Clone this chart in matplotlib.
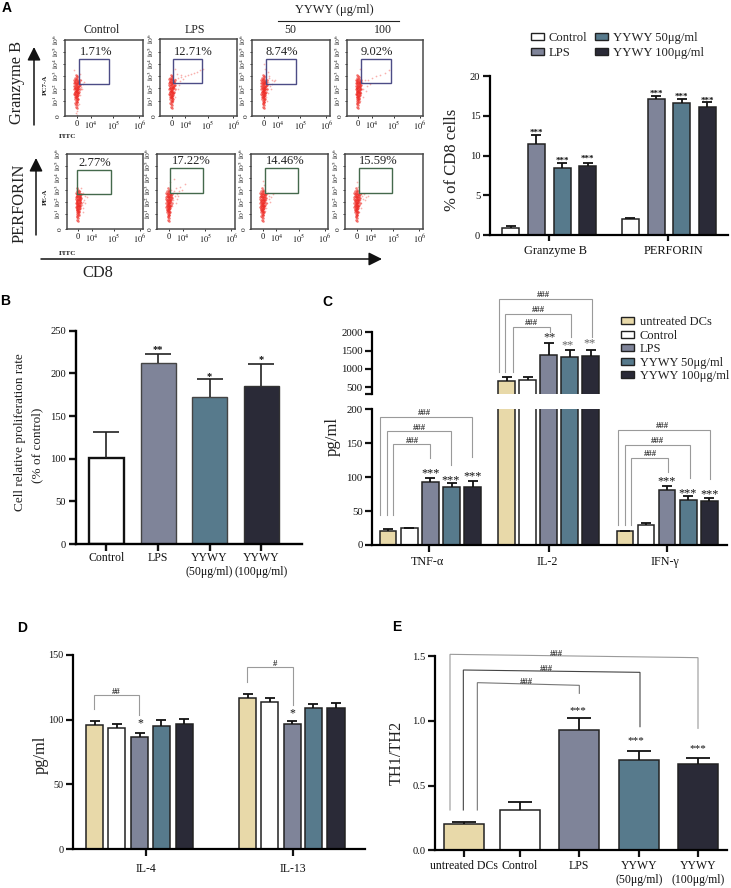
import matplotlib
matplotlib.use('Agg')
import matplotlib.pyplot as plt
from matplotlib.patches import Rectangle, Patch
from matplotlib.transforms import ScaledTranslation

W, H = 731, 888

TAN = '#e8d9a9'
WHITE = '#ffffff'
LPS = '#7f8499'
TEAL = '#577a8c'
DARK = '#2a2a37'
GREY = '#9a9a9a'

# panel A flow plots
flow_names = ['Control', 'LPS', '50', '100']
gzb_pct = ['1.71%', '12.71%', '8.74%', '9.02%']
prf_pct = ['2.77%', '17.22%', '14.46%', '15.59%']
core_x = [.14, .15, .13, .16, .14, .17, .15, .13, .16, .14, .18, .15, .13, .16, .14, .17, .15, .14, .16, .13,
          .15, .17, .14, .16, .13, .15, .18, .14, .16, .15, .13, .17, .15, .14, .16, .15, .14, .15, .14, .15,
          .12, .19, .13, .18, .12, .17, .19, .12, .18, .13, .17, .12, .19, .14, .18, .13, .16, .12, .17, .13,
          .155, .145, .165, .135, .155, .145, .165, .135, .155, .145, .165, .135, .155, .145, .165, .135]
core_y = [.54, .52, .50, .49, .47, .46, .45, .44, .43, .42, .41, .40, .39, .38, .37, .36, .35, .34, .33, .32,
          .31, .30, .29, .28, .27, .26, .44, .25, .24, .23, .22, .38, .21, .20, .19, .18, .16, .14, .12, .10,
          .48, .47, .46, .45, .43, .43, .41, .40, .39, .37, .36, .35, .35, .33, .32, .31, .30, .29, .28, .25,
          .51, .485, .465, .445, .425, .405, .385, .365, .345, .325, .305, .285, .265, .245, .225, .17]
soft_x = [.12, .19, .21, .18, .23, .20, .17, .12, .22, .19, .15, .14, .16, .13, .24, .18]
soft_y = [.60, .55, .48, .33, .42, .38, .22, .30, .36, .27, .07, .04, .01, .15, .45, .16]
lps1_x = [.20, .24, .28, .32, .36, .40, .44, .48, .52, .56, .26, .30, .22, .25, .18, .20, .23, .19, .27, .17]
lps1_y = [.48, .50, .51, .52, .53, .55, .56, .58, .60, .62, .46, .48, .55, .40, .30, .25, .35, .62, .54, .20]
y50_x = [.20, .22, .25, .28, .30, .23, .19, .21, .26, .18, .17, .20, .24, .16, .19, .22]
y50_y = [.45, .50, .47, .46, .48, .40, .35, .30, .42, .25, .62, .58, .36, .68, .20, .52]
y100_x = [.20, .24, .28, .33, .38, .44, .50, .56, .22, .26, .19, .21, .18, .25, .17, .30]
y100_y = [.45, .47, .48, .50, .52, .54, .56, .60, .35, .40, .30, .25, .20, .33, .62, .42]
prf_ctl_x = [.18, .20, .22, .24, .19, .21, .23, .18, .20, .17, .26, .22, .19, .21, .16, .24]
prf_ctl_y = [.50, .46, .48, .44, .40, .36, .38, .30, .32, .26, .42, .28, .55, .22, .20, .34]
prf_lps_x = [.18, .20, .22, .24, .26, .28, .30, .19, .21, .23, .25, .32, .36, .17, .19, .22, .27, .24]
prf_lps_y = [.52, .48, .50, .54, .46, .50, .56, .42, .38, .44, .40, .52, .60, .62, .30, .66, .44, .34]
prf_50_x = [.18, .20, .22, .24, .26, .19, .21, .23, .17, .28, .20, .25, .16, .18]
prf_50_y = [.50, .46, .48, .44, .42, .38, .34, .40, .58, .46, .28, .36, .64, .24]
prf_100_x = [.18, .20, .22, .24, .27, .19, .21, .23, .17, .30, .20, .25, .16, .18]
prf_100_y = [.50, .47, .44, .46, .42, .38, .34, .40, .56, .44, .28, .38, .62, .22]

# panel A bars
a_groups = ['Granzyme B', 'PERFORIN']
a_gzb = [0.96, 11.45, 8.47, 8.64]
a_gzb_err = [0.2, 1.2, 0.6, 0.45]
a_prf = [2.05, 17.1, 16.6, 16.1]
a_prf_err = [0.15, 0.4, 0.5, 0.6]

# panel B
b_labels = ['Control', 'LPS', 'YYWY\n(50μg/ml)', 'YYWY\n(100μg/ml)']
b_vals = [101, 212, 172, 185]
b_err = [30, 11, 21, 26]

# panel C
c_groups = ['TNF-α', 'IL-2', 'IFN-γ']
c_tnf = [21, 24.5, 93, 86, 86]
c_tnf_err = [3, 1, 6, 6, 9]
c_il2 = [665, 692, 1377, 1313, 1360]
c_il2_err = [118, 73, 320, 202, 155]
c_ifn = [20, 29, 81, 66.5, 65]
c_ifn_err = [0.8, 3, 5.5, 5.5, 4]

# panel D
d_groups = ['IL-4', 'IL-13']
d_il4 = [95.5, 93.5, 86.8, 95, 96.6]
d_il4_err = [3.5, 3.1, 3.2, 4.7, 3.8]
d_il13 = [117, 113.8, 96.3, 109, 109.2]
d_il13_err = [3, 3.2, 2.7, 3, 3.3]

# panel E
e_labels = ['untreated DCs', 'Control', 'LPS', 'YYWY\n(50μg/ml)', 'YYWY\n(100μg/ml)']
e_vals = [0.204, 0.31, 0.933, 0.696, 0.667]
e_err = [0.016, 0.064, 0.09, 0.074, 0.049]

legend_names = ['untreated DCs', 'Control', 'LPS', 'YYWY 50μg/ml', 'YYWY 100μg/ml']
colors5 = [TAN, WHITE, LPS, TEAL, DARK]
colors4 = colors5[1:]

plt.rcParams['font.family'] = 'Liberation Serif'
plt.rcParams['mathtext.fontset'] = 'stix'
plt.rcParams['text.color'] = '#222222'
plt.rcParams['xtick.color'] = '#111111'
plt.rcParams['ytick.color'] = '#111111'

fig = plt.figure(figsize=(W / 100, H / 100), dpi=100)


def box(l, r, t, b):
    return fig.add_axes([l / W, 1 - b / H, (r - l) / W, (b - t) / H])


# overlay in picture pixels, for brackets, arrows and free text
ov = fig.add_axes([0, 0, 1, 1], zorder=10)
ov.set_xlim(0, W)
ov.set_ylim(H, 0)
ov.axis('off')
ov.patch.set_alpha(0)


def txt(x, y, s, size=9, **kw):
    kw.setdefault('ha', 'center')
    kw.setdefault('va', 'center')
    ov.text(x, y, s, fontsize=size, **kw)


def bracket(ox, oy, x0, y0, ytop0, x1, ytop1, y1, color=GREY):
    xs = [ox + v / 3 for v in (x0, x0, x1, x1)]
    ys = [oy + v / 3 for v in (y0, ytop0, ytop1, y1)]
    ov.plot(xs, ys, color=color, lw=0.8, solid_joinstyle='miter')


def arrow(x0, y0, x1, y1):
    ov.annotate('', xy=(x1, y1), xytext=(x0, y0),
                arrowprops=dict(arrowstyle='-|>', color='#111111', lw=1.1, mutation_scale=20,
                                shrinkA=0, shrinkB=0))


def style(ax, size=7.6, lw=1.6, ticklen=5):
    ax.spines['top'].set_visible(False)
    ax.spines['right'].set_visible(False)
    ax.spines['left'].set_linewidth(lw)
    ax.spines['bottom'].set_linewidth(lw)
    ax.tick_params(width=lw, length=ticklen, labelsize=size, pad=2)
    ax.patch.set_alpha(0)


def upper_err(ax, xs, vals, errs, cap, elw, color='#111111'):
    _, caps, _ = ax.errorbar(xs, vals, yerr=[[0] * len(errs), errs], fmt='none', ecolor=color,
                             elinewidth=elw, capsize=cap, capthick=elw)
    if caps:
        caps[0].set_visible(False)


def bars(ax, xs, vals, errs, width, colors, cap=3.6, lw=1.1, elw=1.3):
    ax.bar(xs, vals, width=width, color=colors, edgecolor='#222222', linewidth=lw)
    upper_err(ax, xs, vals, errs, cap, elw)


def shift_labels(ax, dx):
    off = ScaledTranslation(dx / 100, 0, fig.dpi_scale_trans)
    for lab in ax.get_xticklabels():
        lab.set_transform(lab.get_transform() + off)


def flow(bx, gate, edge, pct, pct_xy, sx, sy):
    l, r, t, b = bx
    ax = box(l, r, t, b)
    ax.set_xlim(0, 1)
    ax.set_ylim(0, 1)
    for s in ax.spines.values():
        s.set_color('#4a4a4a')
        s.set_linewidth(1.1)
    ax.scatter(sx, sy, s=1.5, color='#f4706a', alpha=.55, linewidths=0)
    ax.scatter(core_x, core_y, s=3.5, color='#ee2a24', alpha=.6, linewidths=0)
    ax.set_xticks([.15, .33, .62, .955])
    ax.set_xticklabels(['0', '$10^4$', '$10^5$', '$10^6$'], fontsize=6)
    ax.set_yticks([0, .2, .36, .52, .68, .84, 1])
    ax.set_yticklabels(['0', '$10^1$', '$10^2$', '$10^3$', '$10^4$', '$10^5$', '$10^6$'],
                       rotation=90, va='center', fontsize=5.4)
    ax.tick_params(length=1.5, width=.6, pad=1.2)
    ov.add_patch(Rectangle((gate[0], gate[2]), gate[1] - gate[0], gate[3] - gate[2],
                           fill=False, edgecolor=edge, lw=1))
    txt(pct_xy[0], pct_xy[1], pct, size=9)


BLUE_GATE = '#4c4c86'
GREEN_GATE = '#44694c'
row1 = [(65, 142.7, 40, 116), (160, 236.7, 39.5, 116), (252, 330, 40, 116), (346.7, 423, 40, 116)]
row2 = [(66.7, 143, 154, 229), (157, 235, 154, 229), (251, 328, 154, 229), (345, 423, 154, 229)]
gates1 = [(79, 109.3, 59.3, 84.3), (172.7, 202, 59.3, 83.3), (265.7, 296.3, 59.3, 84), (360.7, 390.7, 58.7, 83.3)]
gates2 = [(77.3, 110.7, 169.7, 194.3), (170.3, 203.3, 168.3, 193.3), (264.7, 298.3, 168.3, 193.3), (358.7, 392, 168.3, 193.3)]
pct1_xy = [(96, 52), (193, 52), (282, 52), (377, 52)]
pct2_xy = [(95, 162.5), (191, 161.5), (285, 161.5), (378, 161.5)]
soft1 = [(soft_x, soft_y), (lps1_x, lps1_y), (y50_x, y50_y), (y100_x, y100_y)]
soft2 = [(prf_ctl_x, prf_ctl_y), (prf_lps_x, prf_lps_y), (prf_50_x, prf_50_y), (prf_100_x, prf_100_y)]
for i in range(4):
    flow(row1[i], gates1[i], BLUE_GATE, gzb_pct[i], pct1_xy[i], *soft1[i])
    flow(row2[i], gates2[i], GREEN_GATE, prf_pct[i], pct2_xy[i], *soft2[i])

for x, name in zip([102, 195, 290, 383], flow_names):
    txt(x, 30, name, size=8.6)
txt(334, 10, 'YYWY (μg/ml)', size=9)
ov.plot([278, 399], [21, 21], color='#222222', lw=0.8)
txt(17, 83, 'Granzyme B', size=11.8, rotation=90)
txt(20, 203, 'PERFORIN', size=11.8, rotation=90)
txt(98, 273, 'CD8', size=11.8)
txt(68, 136, 'FITC', size=5.2, weight='bold')
txt(68, 253, 'FITC', size=5.2, weight='bold')
txt(45, 85, 'PC7-A', size=5, weight='bold', rotation=90)
txt(45, 197, 'PE-A', size=5, weight='bold', rotation=90)
arrow(34, 125, 34, 47)
arrow(36, 235, 36, 158)
arrow(41, 259, 382, 259)

# A bars
ax = box(490, 728, 76, 235.3)
style(ax, size=7.6)
ax.set_xlim(490, 728)
ax.set_ylim(0, 20)
bars(ax, [510.8, 536.3, 562, 587.5], a_gzb, a_gzb_err, 17, colors4, cap=3.4)
bars(ax, [630.3, 656, 681.7, 707.3], a_prf, a_prf_err, 17, colors4, cap=3.4)
ax.set_yticks([0, 5, 10, 15, 20])
ax.set_xticks([549, 668])
ax.set_xticklabels(a_groups, fontsize=8.9)
ax.tick_params(axis='x', length=4, pad=3)
shift_labels(ax, 6)
txt(452, 160, '% of CD8 cells', size=12, rotation=90)
for x, y in [(536, 133), (562, 161), (587.5, 159), (656, 94), (681.7, 97), (707.3, 101)]:
    txt(x, y, '***', size=6.5, weight='bold', color='#111111')
ax.legend(handles=[Patch(facecolor=c, edgecolor='#222222', linewidth=1, label=n)
                   for c, n in zip(colors4, legend_names[1:])],
          ncol=2, loc='upper left', bbox_to_anchor=((531 - 490) / 238, 1 + (76 - 32) / 159.3),
          frameon=False, fontsize=9.1, handlelength=1.0, handleheight=.55, handletextpad=.4,
          labelspacing=.25, columnspacing=.6, borderpad=0, borderaxespad=0)

# B
ax = box(76, 301.7, 330.7, 544)
style(ax, size=7.6, lw=1.7)
ax.set_xlim(76, 301.7)
ax.set_ylim(0, 250)
b_x = [106.3, 158.2, 209.6, 261.3]
ax.bar(b_x, b_vals, width=35, color=colors4, edgecolor=['#111111', '#444444', '#444444', '#333333'],
       linewidth=[1.7, 1, 1, 1])
upper_err(ax, b_x, b_vals, b_err, 9.6, 1.2, color='#222222')
ax.set_yticks([0, 50, 100, 150, 200, 250])
ax.set_xticks(b_x)
ax.set_xticklabels(b_labels, fontsize=8.5)
ax.tick_params(axis='x', pad=1)
txt(20, 431.7, 'Cell relative proliferation rate', size=9.5, rotation=90)
txt(37, 445, '(% of control)', size=9.5, rotation=90)
for x, y, m in [(158.2, 350, '**'), (209.6, 377, '*'), (261.3, 360, '*')]:
    txt(x, y, m, size=7.5, weight='bold', color='#111111')

# C
c_x = [[v / 3 + 320 for v in g] for g in ([204, 268, 331, 395, 458], [560, 623, 686, 749, 812], [915, 978, 1041, 1105, 1168])]
low = box(372.3, 726.7, 409.3, 545)
style(low, size=7.8)
low.set_xlim(372.3, 726.7)
low.set_ylim(0, 200)
bars(low, c_x[0], c_tnf, c_tnf_err, 16.7, colors5, cap=3.4)
bars(low, c_x[1], c_il2, [0] * 5, 16.7, colors5, cap=0)
bars(low, c_x[2], c_ifn, c_ifn_err, 16.7, colors5, cap=3.4)
low.set_yticks([0, 50, 100, 150, 200])
low.set_xticks([320 + 328 / 3, 320 + 687 / 3, 320 + 1041 / 3])
low.set_xticklabels(c_groups, fontsize=8.7)
low.tick_params(axis='x', pad=3)
shift_labels(low, -2)
up = box(372.3, 726.7, 332.3, 393.7)
style(up, size=7.8)
up.spines['bottom'].set_visible(False)
up.set_xlim(372.3, 726.7)
up.set_ylim(317, 2000)
bars(up, c_x[1], c_il2, c_il2_err, 16.7, colors5, cap=3.4)
up.set_yticks([317, 500, 1000, 1500, 2000])
up.set_yticklabels(['', '500', '1000', '1500', '2000'])
up.set_xticks([])
txt(332.7, 436.7, 'pg/ml', size=12, rotation=90)
up.legend(handles=[Patch(facecolor=c, edgecolor='#222222', linewidth=1, label=n)
                   for c, n in zip(colors5, legend_names)],
          loc='upper left', bbox_to_anchor=((621 - 372.3) / 354.4, 1 + (332.3 - 316) / 61.4),
          frameon=False, fontsize=9, handlelength=1.05, handleheight=.5, handletextpad=.45,
          labelspacing=.12, borderpad=0, borderaxespad=0)
cx, cy = 320, 285
bracket(cx, cy, 181, 690, 395, 457, 395, 515)
bracket(cx, cy, 200, 690, 437, 394, 437, 540)
bracket(cx, cy, 219, 690, 478, 330, 478, 520)
bracket(cx, cy, 538, 260, 42, 815, 42, 155)
bracket(cx, cy, 556, 260, 87, 752, 87, 155)
bracket(cx, cy, 578, 260, 127, 690, 127, 140)
bracket(cx, cy, 894, 720, 434, 1170, 434, 583)
bracket(cx, cy, 914, 720, 479, 1110, 479, 580)
bracket(cx, cy, 933, 720, 519, 1045, 519, 560)
for x, y in [(312, 384), (297, 428), (277, 467), (670, 30), (655, 76), (633, 115), (1027, 424), (1011, 469), (991, 508)]:
    txt(cx + x / 3, cy + y / 3, '###', size=6.2, weight='bold', color='#333333')
for x, y in [(331, 563), (392, 582), (459, 572), (1041, 585), (1104, 622), (1168, 625)]:
    txt(cx + x / 3, cy + y / 3 + 1, '***', size=8.8, color='#111111')
for x, y, c in [(688, 155, '#222222'), (744, 178, '#666666'), (808, 172, '#666666')]:
    txt(cx + x / 3, cy + y / 3 + 1, '**', size=8.8, color=c)

# D
ax = box(73.3, 365, 654.7, 849.3)
style(ax, size=7.4)
ax.set_xlim(73.3, 365)
ax.set_ylim(0, 150)
d_x1 = [v / 3 for v in (284.5, 350, 418.5, 484, 553)]
d_x2 = [v / 3 for v in (743.5, 809, 877, 940, 1008)]
bars(ax, d_x1, d_il4, d_il4_err, 17.3, colors5, cap=3.6)
bars(ax, d_x2, d_il13, d_il13_err, 17.3, colors5, cap=3.6)
ax.set_yticks([0, 50, 100, 150])
ax.set_xticks([437 / 3, 878 / 3])
ax.set_xticklabels(d_groups, fontsize=8.5)
ax.tick_params(axis='x', pad=5)
txt(40.7, 755, 'pg/ml', size=11.8, rotation=90)
dy = 610
bracket(0, dy, 282, 297, 256, 418, 256, 315)
bracket(0, dy, 740, 215, 172, 880, 172, 285)
txt(350 / 3, dy + 245 / 3, '##', size=6.2, weight='bold', color='#333333')
txt(825 / 3, dy + 162 / 3, '#', size=6.2, weight='bold', color='#333333')
txt(420 / 3, dy + 337 / 3 + 1, '*', size=8.5, color='#111111')
txt(878 / 3, dy + 308 / 3 + 1, '*', size=8.5, color='#111111')

# E
ax = box(435, 726.7, 656.3, 850.3)
style(ax, size=7.6)
ax.set_xlim(435, 726.7)
ax.set_ylim(0, 1.5)
e_x = [360 + v / 3 for v in (312.5, 480, 656, 838, 1014)]
ax.bar(e_x, e_vals, width=39.7, color=colors5, edgecolor='#222222', linewidth=1.1)
upper_err(ax, e_x, e_vals, e_err, 8.4, 1.3)
ax.set_yticks([0, .5, 1, 1.5])
ax.set_yticklabels(['0.0', '0.5', '1.0', '1.5'])
ax.set_xticks(e_x)
ax.set_xticklabels(e_labels, fontsize=8.5)
ax.tick_params(axis='x', pad=2)
txt(397, 753, 'TH1/TH2', size=11.7, rotation=90)
ex, ey = 360, 610
bracket(ex, ey, 270, 600, 133, 1014, 143, 355)
bracket(ex, ey, 310, 600, 180, 840, 187, 350, color='#444444')
bracket(ex, ey, 352, 600, 218, 658, 226, 250, color='#777777')
for x, y in [(590, 132), (558, 176), (499, 216)]:
    txt(ex + x / 3, ey + y / 3, '###', size=6.2, weight='bold', color='#333333')
for x, y in [(654, 300), (829, 390), (1015, 414)]:
    txt(ex + x / 3, ey + y / 3 + 1, '***', size=8, color='#111111')

# panel letters
for x, y, s in [(7, 8, 'A'), (5, 300.7, 'B'), (327, 302, 'C'), (22, 628, 'D'), (397, 627, 'E')]:
    txt(x, y, s, size=10, family='Liberation Sans', weight='bold', color='black')

fig.savefig('out.png', dpi=100)
